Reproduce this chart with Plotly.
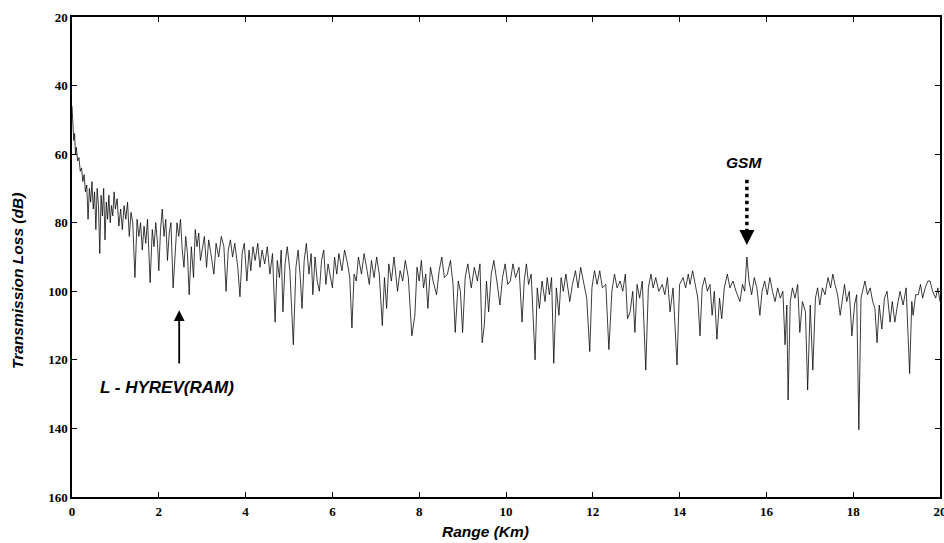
import plotly.graph_objects as go

range_km = [
    0.00, 0.02, 0.04, 0.06, 0.08, 0.10, 0.13, 0.16, 0.19, 0.22, 0.25, 0.28, 0.31, 0.34, 0.37, 0.40,
    0.43, 0.46, 0.49, 0.52, 0.55, 0.58, 0.61, 0.64, 0.67, 0.70, 0.73, 0.76, 0.79, 0.82, 0.85, 0.88,
    0.91, 0.94, 0.97, 1.00, 1.04, 1.08, 1.12, 1.16, 1.20, 1.24, 1.28, 1.32, 1.36, 1.40, 1.45, 1.50,
    1.54, 1.58, 1.62, 1.66, 1.70, 1.74, 1.80, 1.85, 1.89, 1.93, 1.97, 2.00, 2.04, 2.08, 2.12, 2.16,
    2.20, 2.24, 2.28, 2.33, 2.38, 2.42, 2.46, 2.50, 2.54, 2.58, 2.62, 2.66, 2.70, 2.75, 2.80, 2.84,
    2.88, 2.92, 2.96, 3.00, 3.05, 3.10, 3.15, 3.20, 3.27, 3.32, 3.38, 3.44, 3.50, 3.55, 3.60, 3.65,
    3.70, 3.75, 3.82, 3.87, 3.92, 3.97, 4.03, 4.08, 4.12, 4.17, 4.22, 4.28, 4.33, 4.38, 4.44, 4.50,
    4.56, 4.62, 4.68, 4.73, 4.78, 4.82, 4.86, 4.91, 4.96, 5.02, 5.10, 5.16, 5.21, 5.26, 5.30, 5.35,
    5.40, 5.46, 5.51, 5.55, 5.60, 5.65, 5.70, 5.75, 5.80, 5.85, 5.90, 6.00, 6.05, 6.10, 6.15, 6.22,
    6.28, 6.35, 6.40, 6.45, 6.50, 6.55, 6.60, 6.67, 6.73, 6.80, 6.85, 6.90, 6.96, 7.02, 7.08, 7.15,
    7.20, 7.25, 7.30, 7.36, 7.42, 7.50, 7.56, 7.62, 7.68, 7.75, 7.83, 7.90, 7.95, 8.00, 8.05, 8.10,
    8.15, 8.20, 8.26, 8.32, 8.40, 8.46, 8.52, 8.58, 8.65, 8.72, 8.78, 8.83, 8.90, 8.95, 9.00, 9.06,
    9.12, 9.20, 9.27, 9.34, 9.40, 9.45, 9.50, 9.55, 9.60, 9.66, 9.72, 9.80, 9.86, 9.92, 9.98, 10.04,
    10.10, 10.16, 10.22, 10.30, 10.37, 10.42, 10.47, 10.52, 10.58, 10.67, 10.72, 10.77, 10.83, 10.90,
    10.95, 11.00, 11.05, 11.10, 11.16, 11.22, 11.27, 11.32, 11.38, 11.47, 11.53, 11.60, 11.66, 11.72,
    11.80, 11.86, 11.93, 11.98, 12.04, 12.10, 12.16, 12.22, 12.30, 12.37, 12.44, 12.50, 12.56, 12.63,
    12.69, 12.75, 12.80, 12.86, 12.92, 12.97, 13.02, 13.08, 13.14, 13.22, 13.28, 13.34, 13.39, 13.45,
    13.52, 13.60, 13.66, 13.72, 13.78, 13.85, 13.94, 14.00, 14.08, 14.14, 14.20, 14.24, 14.30, 14.36,
    14.42, 14.47, 14.52, 14.58, 14.64, 14.70, 14.75, 14.80, 14.86, 14.92, 14.97, 15.03, 15.10, 15.16,
    15.23, 15.30, 15.39, 15.45, 15.50, 15.55, 15.60, 15.66, 15.72, 15.78, 15.85, 15.90, 15.96, 16.02,
    16.08, 16.14, 16.20, 16.26, 16.32, 16.38, 16.43, 16.47, 16.50, 16.55, 16.60, 16.66, 16.72, 16.77,
    16.83, 16.90, 16.95, 17.01, 17.07, 17.13, 17.18, 17.23, 17.29, 17.35, 17.42, 17.48, 17.53, 17.58,
    17.64, 17.70, 17.76, 17.80, 17.85, 17.91, 17.97, 18.03, 18.08, 18.13, 18.18, 18.23, 18.27, 18.33,
    18.39, 18.45, 18.50, 18.55, 18.60, 18.66, 18.72, 18.78, 18.85, 18.90, 18.96, 19.02, 19.08, 19.15,
    19.22, 19.30, 19.35, 19.38, 19.44, 19.50, 19.55, 19.60, 19.66, 19.72, 19.77, 19.83, 19.90, 19.95,
    20.00,
]

loss_db = [
    46, 52, 56, 54, 60, 58, 62, 61, 65, 64, 68, 66, 71, 69, 79, 70,
    74, 68, 76, 71, 82, 70, 75, 89, 72, 78, 70, 85, 74, 79, 72, 80,
    75, 78, 71, 76, 73, 81, 76, 82, 75, 79, 74, 84, 77, 80, 96, 79,
    84, 80, 88, 81, 86, 79, 97.5, 82, 87, 80, 86, 94, 82, 76, 84, 79,
    91, 83, 80, 99, 86, 80, 84, 79, 88, 93, 84, 89, 101, 87, 96, 82,
    87, 83, 91, 88, 84, 93, 85, 89, 95, 86, 90, 84, 87, 100, 88, 85,
    90, 86, 93, 101.6, 89, 86, 97, 88, 94, 87, 91, 86, 93, 88, 92, 87,
    95, 89, 109, 91, 96, 88, 106, 92, 87, 94, 115.6, 93, 88, 96, 105, 91,
    86, 95, 89, 101, 90, 97, 100, 91, 88, 98, 92, 99, 90, 95, 89, 94,
    88, 92, 96, 110.7, 95, 97, 90, 95, 89, 94, 98, 91, 96, 90, 95, 110,
    96, 105, 92, 97, 90, 100, 94, 97, 91, 96, 113, 107, 93, 97, 91, 99,
    95, 105, 93, 97, 101, 94, 90, 96, 95, 91, 98, 112, 97, 100, 112, 96,
    92, 99, 93, 97, 92, 115, 110, 97, 106, 95, 91, 98, 104, 96, 92, 98,
    97, 92, 96, 93, 109, 97, 92, 98, 95, 120, 99, 105, 97, 103,
    96, 101, 96, 121, 99, 107, 96, 100, 95, 103, 98, 94, 99, 93,
    98, 102, 117.6, 99, 94, 98, 94, 99, 98, 117, 100, 95, 99, 97,
    100, 95, 108, 106, 100, 112, 98, 102, 97, 123, 99, 95, 99, 96,
    100, 98, 101, 96, 106, 99, 121.5, 98, 96, 99, 95, 98, 94, 98,
    102, 113, 99, 96, 100, 98, 107, 100, 114, 102, 108, 99, 95, 99,
    97, 100, 103, 98, 100, 90, 97, 101, 96, 99, 107, 100, 97, 101,
    96, 100, 103, 99, 102, 100, 115.6, 104, 131.7, 103, 99, 102, 98, 112,
    103, 106, 128.8, 104, 123, 102, 99, 104, 99, 101, 96, 99, 95, 98,
    101, 107, 102, 98, 103, 100, 113, 104, 101, 140.4, 102, 99, 97, 101,
    99, 103, 105, 115, 104, 111, 102, 100, 109, 103, 109, 104, 100, 104,
    99, 124, 103, 107, 101, 101, 98, 102, 99, 97, 97, 100, 102, 99,
    103,
]

x_ticks = [0, 2, 4, 6, 8, 10, 12, 14, 16, 18, 20]
y_ticks = [20, 40, 60, 80, 100, 120, 140, 160]

fig = go.Figure()
fig.add_trace(go.Scatter(
    x=range_km, y=loss_db, mode="lines",
    line=dict(color="rgba(0,0,0,0.85)", width=0.9),
    showlegend=False, hoverinfo="skip",
))

tick_font = dict(family="Liberation Serif", size=13, color="black", weight="bold")
axis_common = dict(
    showline=True, linecolor="black", linewidth=1.5, mirror="ticks",
    ticks="inside", ticklen=5, tickcolor="black", tickwidth=1,
    showgrid=False, zeroline=False, tickfont=tick_font,
    ticklabeloverflow="allow", automargin=False,
)

fig.update_xaxes(range=[0, 20], tickvals=x_ticks, ticklabelstandoff=2, **axis_common)
fig.update_yaxes(range=[160, 20], tickvals=y_ticks, ticksuffix="\u00a0\u00a0", **axis_common)

title_font = dict(family="Liberation Sans", size=15, color="black")
fig.add_annotation(
    text="<b><i>Transmission Loss (dB)</i></b>", xref="paper", yref="paper",
    x=-0.0634, y=0.45, xanchor="center", yanchor="middle", textangle=-90,
    showarrow=False, font=dict(title_font, size=15.5),
)
fig.add_annotation(
    text="<b><i>Range (Km)</i></b>", xref="paper", yref="paper",
    x=0.476, y=-0.072, showarrow=False, font=dict(title_font, size=15.5), yanchor="middle",
)

# GSM marker: dotted shaft with a solid head
fig.add_annotation(
    text="<b><i>GSM</i></b>", x=15.48, y=62.5, xref="x", yref="y",
    showarrow=False, font=dict(title_font, size=15.5),
)
fig.add_shape(
    type="line", x0=15.55, x1=15.55, y0=67.5, y1=83.5, xref="x", yref="y",
    line=dict(color="black", width=3.5, dash="dot"),
)
fig.add_annotation(
    x=15.55, y=86.5, ax=15.55, ay=83.5, xref="x", yref="y", axref="x", ayref="y",
    text="", showarrow=True, arrowhead=2, arrowsize=1.2, arrowwidth=2.5, arrowcolor="black",
)

# L - HYREV(RAM) label with solid arrow
fig.add_annotation(
    x=2.47, y=105.5, ax=2.47, ay=121.5, xref="x", yref="y", axref="x", ayref="y",
    text="", showarrow=True, arrowhead=2, arrowsize=1.2, arrowwidth=1.8, arrowcolor="black",
)
fig.add_annotation(
    text="<b><i>L - HYREV(RAM)</i></b>", x=2.2, y=128.2, xref="x", yref="y",
    showarrow=False, font=dict(title_font, size=17),
)

fig.update_layout(
    width=944, height=543,
    margin=dict(l=72, r=4, t=17, b=46, autoexpand=False),
    plot_bgcolor="white", paper_bgcolor="white",
)

fig.write_html("out.html")
